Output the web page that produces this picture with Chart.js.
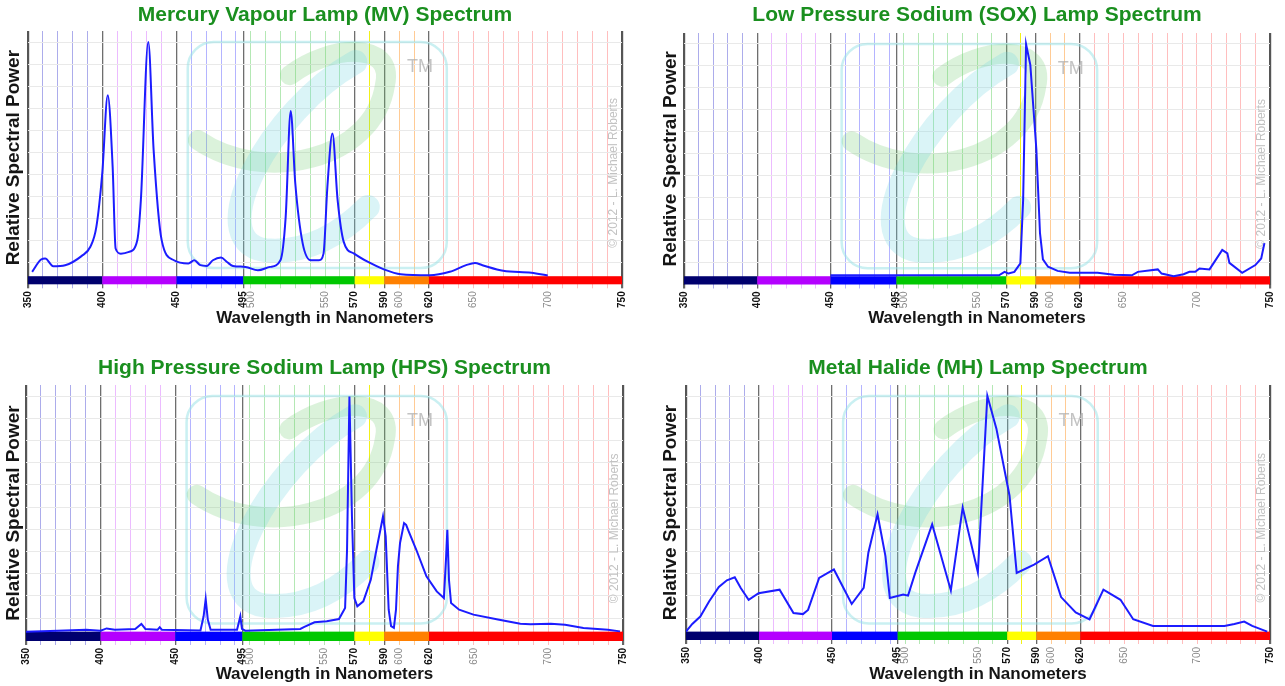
<!DOCTYPE html>
<html><head><meta charset="utf-8">
<script src="https://cdn.jsdelivr.net/npm/chart.js@4.4.1/dist/chart.umd.min.js"></script>
<style>
html,body{margin:0;padding:0;background:#fff;width:1285px;height:686px;overflow:hidden;}
canvas{position:absolute;}
</style></head><body>
<canvas id="c1" width="640" height="330" style="left:0;top:0"></canvas>
<canvas id="c2" width="630" height="330" style="left:655px;top:0"></canvas>
<canvas id="c3" width="640" height="336" style="left:0;top:350px"></canvas>
<canvas id="c4" width="630" height="336" style="left:655px;top:350px"></canvas>
<script>
// ---------- DATA ----------
const mvNm = [352.8,358.8,361.6,367,375,386,392,396,400,403.7,407,409,412.5,418,423.6,426,431,434.6,440,448.3,458,462,466,470.4,474.5,480,484,488,496.5,504.8,513,520,523.5,526.9,530,535,540.6,546,549,551.6,555,558.5,562.6,569.6,579,590,601,620.5,634,645,651,656,670,689,700];
const mvPower = [1.8,6.8,7.2,4.1,4.5,8.2,12,20,42,73.8,44.6,11.3,9.2,9.9,14.7,31,95.5,51.4,14.7,6.5,5.2,6.5,4.5,4.2,6.5,7.6,5.8,4.2,3.8,2.4,3.8,6.5,24,67.4,37.8,13.3,6.5,6.5,9.2,36.4,58.2,31,14,9.2,5.8,2.7,0.8,0.4,1.8,4.5,5.4,4.5,2.2,1.4,0.3];

const soxNm = [450,565,568.8,571.5,575.5,579.6,581.5,583.5,586.4,590.5,593,595,598.5,605,613.3,632.3,643.5,655.7,659.8,673.4,676,684.2,691,695,699,701.9,708.7,711.4,717.4,720.9,722.3,731,740,744,746.2];
const soxPower = [0.4,0.4,1.8,1.1,1.8,5.3,31.5,95.4,86.9,52.3,17.7,6.9,3.9,2.2,1.4,1.4,0.6,0.4,1.8,2.8,1.1,0,0.8,1.8,1.8,3.2,2.8,5.3,10.8,9.4,5.5,1.4,4.6,7.3,13.6];

const hpsNm = [350,371.3,390.4,400,404,409.5,423.2,427.3,430,438.2,439.6,441,466.9,469,470.4,471.8,473.7,491.4,492.8,493.6,494.7,496.9,533.8,536.5,543.3,551.5,559.7,563.8,565.1,566.7,568.4,570,572,576,581,584.8,589.2,591,593,594.6,596.5,597.9,599.2,600.6,603.3,604.7,606,611.5,618.3,625.2,630,631.5,632.3,633.4,634.8,640.2,649.8,666.2,681.2,688,701.7,711.2,723.5,739.9,748];
const hpsPower = [0,0.4,0.8,0.4,1.3,0.8,1.1,3.1,1.1,0.8,1.8,0.8,0.5,6.2,13.2,4.9,0.8,0.8,4.2,6.2,1.1,0.4,1.1,1.9,3.8,4.2,5.1,9.6,33.2,95.3,46.7,13.6,10.3,12.3,21,33.2,46.7,38.6,8.9,2.2,1.5,8.9,26.4,35.9,44,43.3,41.3,33.2,22.4,16.3,13.6,30.5,41.3,21,11.6,8.9,6.9,4.9,3.2,3,3.2,2.8,1.5,0.8,0.1];

const mhNm = [350,354.3,359.8,365.8,372.5,378,383.4,387.5,392.9,399.7,414.1,423.6,430.1,433.6,441.2,451.3,463.5,471.7,474.9,481.2,486.6,489.6,498.8,502.1,507,518.6,531.4,539.5,549.9,556.4,562.6,571.6,576.5,588.4,597.9,606.9,616.9,626.4,635.9,647.6,656.3,669.9,718.8,725.6,732.3,737.8,748.1];
const mhPower = [0,3.1,6.1,12.2,18.1,20.8,22,17.7,12.9,15.6,17,7.5,7.1,8.8,21.8,25.2,11.2,17.7,32,47.6,30.6,13.6,15,14.6,23.8,43.5,16.7,50.3,24.1,95.6,82.3,55.1,23.8,27.2,30.6,14,7.8,5,17,12.9,5,2.3,2.3,3.1,4.1,2.3,0];

const bandStart = [350,400,450,495,570,590,620];
const bandEnd   = [400,450,495,570,590,620,750];
const bandColors = ['#00006e','#b400ff','#0000ff','#00c800','#ffff00','#ff8000','#ff0000'];
const gridColors = ['rgba(70,70,210,0.45)','rgba(200,60,255,0.35)','rgba(40,40,255,0.35)','rgba(40,190,40,0.35)','rgba(240,240,0,0.9)','rgba(255,140,20,0.45)','rgba(255,40,40,0.3)'];
const majorTicks = [350,400,450,495,570,590,620,750];
const minorLabels = [500,550,600,650,700];
const gridTicks = [350,360,370,380,390,400,410,420,430,440,450,460,470,480,490,495,500,510,520,530,540,550,560,570,580,590,600,610,620,630,640,650,660,670,680,690,700,710,720,730,740,750];
const yGrid = [5.5,14.5,23.5,32.5,41.5,50.5,59.5,68.5,77.5,86.5,95.5];

const FONT = "'Liberation Sans', Arial, sans-serif";

function bandIndex(v){
  for (let i=0;i<bandStart.length;i++){ if (v>=bandStart[i] && v<bandEnd[i]) return i; }
  return bandStart.length-1;
}

const decorPlugin = {
  id:'decor',
  beforeDatasetsDraw(chart){
    const {ctx, chartArea:a, scales:{x,y}} = chart;
    const y0 = y.getPixelForValue(0);
    const W = a.right - a.left, H = y0 - a.top;
    const P = (fx,fy) => [a.left + fx*W, a.top + fy*H];
    ctx.save();
    // watermark rounded rectangle
    const [rx0,ry0] = P(0.269,0.045), [rx1,ry1] = P(0.705,0.967);
    ctx.strokeStyle='rgba(150,225,230,0.5)'; ctx.lineWidth=2.5;
    ctx.beginPath(); ctx.roundRect(rx0,ry0,rx1-rx0,ry1-ry0,26); ctx.stroke();
    // green loop
    ctx.lineCap='round';
    ctx.strokeStyle='rgba(110,205,110,0.25)'; ctx.lineWidth=20;
    ctx.beginPath();
    ctx.moveTo(...P(0.286,0.445));
    ctx.bezierCurveTo(...P(0.397,0.629),...P(0.582,0.527),...P(0.601,0.220));
    ctx.bezierCurveTo(...P(0.618,0.037),...P(0.508,0.057),...P(0.441,0.180));
    ctx.stroke();
    // cyan stroke
    ctx.strokeStyle='rgba(120,215,225,0.27)'; ctx.lineWidth=24;
    ctx.beginPath();
    ctx.moveTo(...P(0.551,0.127));
    ctx.bezierCurveTo(...P(0.407,0.322),...P(0.290,0.853),...P(0.399,0.894));
    ctx.quadraticCurveTo(...P(0.492,0.914),...P(0.572,0.718));
    ctx.stroke();
    // TM
    ctx.fillStyle='rgba(175,175,175,0.75)';
    ctx.font = "18px "+FONT; ctx.textAlign='center'; ctx.textBaseline='middle';
    ctx.fillText('TM', ...P(0.660,0.147));
    // copyright
    const [cx,cy] = [a.right-8, a.top + 0.56*(a.bottom-a.top)];
    ctx.translate(cx,cy); ctx.rotate(-Math.PI/2);
    ctx.fillStyle='#c2c2c2'; ctx.font="12px "+FONT;
    ctx.fillText('\u00A9 2012 - L. Michael Roberts',0,0);
    ctx.restore();
    // colour band
    const yb = y.getPixelForValue(y.min);
    bandStart.forEach((s,i)=>{
      const xa = x.getPixelForValue(s), xb = x.getPixelForValue(bandEnd[i]);
      ctx.fillStyle = bandColors[i];
      ctx.fillRect(xa, y0, xb-xa, yb-y0);
    });
  }
};

function makeChart(id, cfg){
  const pts = cfg.nm.map((v,i)=>({x:v, y:cfg.power[i]}));
  return new Chart(document.getElementById(id), {
    type:'line',
    data:{datasets:[{data:pts, borderColor:'#1c1cff', borderWidth:2, pointRadius:0,
      tension:cfg.smooth?0.4:0, cubicInterpolationMode:cfg.smooth?'monotone':'default', fill:false}]},
    options:{
      responsive:false, animation:false, devicePixelRatio:1,
      layout:{padding:{left:0,right:cfg.padR,top:0,bottom:0}},
      plugins:{
        legend:{display:false}, tooltip:{enabled:false},
        title:{display:true, text:cfg.title, color:'#1a8f1f', fullSize:false,
          font:{family:FONT, size:21, weight:'bold', lineHeight:1.2},
          padding:cfg.titlePad}
      },
      scales:{
        x:{type:'linear', min:350, max:750,
          afterBuildTicks:(s)=>{ s.ticks = gridTicks.map(v=>({value:v})); },
          afterFit:(s)=>{ s.height = cfg.xh; },
          border:{display:false},
          grid:{drawOnChartArea:true, drawTicks:true, tickLength:4,
            color:(c)=>{ const v=c.tick?c.tick.value:0; return majorTicks.includes(v)?(v===350||v===750?'#555':'#6e6e6e'):gridColors[bandIndex(v)]; },
            tickColor:(c)=>{ const v=c.tick?c.tick.value:0; return majorTicks.includes(v)?'#666':gridColors[bandIndex(v)]; },
            lineWidth:(c)=>{ const v=c.tick?c.tick.value:0; return (v===350||v===750)?2.2:(majorTicks.includes(v)?1.3:1); }
          },
          ticks:{autoSkip:false, minRotation:90, maxRotation:90, padding:3,
            callback:(v)=> (majorTicks.includes(v)||minorLabels.includes(v))?String(v):'',
            font:(c)=>({family:FONT, size:10, weight:(c.tick&&majorTicks.includes(c.tick.value))?'bold':'normal'}),
            color:(c)=> (c.tick&&majorTicks.includes(c.tick.value))?'#111':'#8a8a8a'
          },
          title:{display:true, text:'Wavelength in Nanometers', color:'#151515',
            font:{family:FONT, size:17, weight:'bold', lineHeight:1.2}, padding:{top:0,bottom:cfg.xTitleBottom}}
        },
        y:{min:cfg.ymin, max:100,
          afterBuildTicks:(s)=>{ s.ticks = yGrid.map(v=>({value:v})); },
          afterFit:(s)=>{ s.width = cfg.yw; },
          border:{display:false},
          grid:{color:'#e9e9e9', drawTicks:false, lineWidth:1},
          ticks:{display:false},
          title:{display:true, text:'Relative Spectral Power', color:'#151515',
            font:{family:FONT, size:19, weight:'bold', lineHeight:1.2}, padding:{top:cfg.yTitleTop,bottom:0}}
        }
      }
    },
    plugins:[decorPlugin]
  });
}

makeChart('c1',{nm:mvNm, power:mvPower, smooth:true, title:'Mercury Vapour Lamp (MV) Spectrum',
  padR:18, yw:28, xh:45.7, ymin:-3.3, titlePad:{top:2.3,bottom:3.5}, xTitleBottom:1.5, yTitleTop:2.6});
makeChart('c2',{nm:soxNm, power:soxPower, smooth:false, title:'Low Pressure Sodium (SOX) Lamp Spectrum',
  padR:15, yw:29, xh:45.5, ymin:-3.4, titlePad:{top:2.3,bottom:5.5}, xTitleBottom:1.5, yTitleTop:4.5});
makeChart('c3',{nm:hpsNm, power:hpsPower, smooth:false, title:'High Pressure Sodium Lamp (HPS) Spectrum',
  padR:17, yw:26, xh:45, ymin:-3.8, titlePad:{top:5.4,bottom:4.4}, xTitleBottom:1, yTitleTop:2});
makeChart('c4',{nm:mhNm, power:mhPower, smooth:false, title:'Metal Halide (MH) Lamp Spectrum',
  padR:14, yw:31, xh:46, ymin:-3.4, titlePad:{top:5.4,bottom:4.4}, xTitleBottom:1, yTitleTop:4.5});
</script>
</body></html>
